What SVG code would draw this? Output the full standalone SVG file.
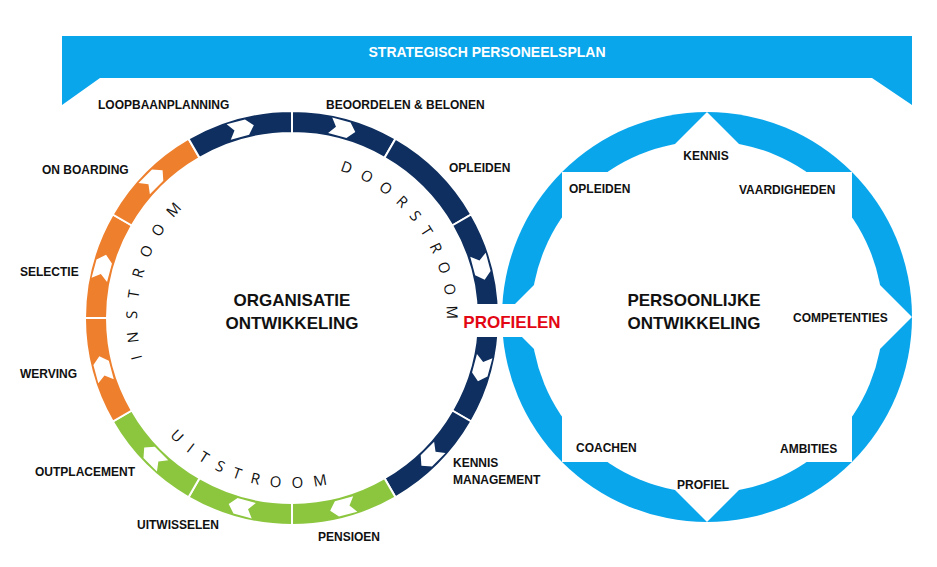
<svg xmlns="http://www.w3.org/2000/svg" xmlns:xlink="http://www.w3.org/1999/xlink" width="937" height="567" viewBox="0 0 937 567">
<style>
.lbl{font-family:"Liberation Sans",Arial,sans-serif;font-weight:bold;font-size:12px;fill:#111}
.big{font-family:"Liberation Sans",Arial,sans-serif;font-weight:bold;font-size:17px;fill:#111;text-anchor:middle}
.arc{font-family:"Open Sans","Liberation Sans",sans-serif;font-size:15px;fill:#111}
.navy{fill:#0E2F5F;stroke:#fff;stroke-width:2}
.orange{fill:#EE7F2D;stroke:#fff;stroke-width:2}
.green{fill:#8CC63F;stroke:#fff;stroke-width:2}
.arw{fill:#fff}
</style>
<defs>
<path id="seg" d="M292,111 A207,207 0 0 1 395.5,138.7 L384.5,157.8 A185,185 0 0 0 292,133 Z"/>
<path id="ar" d="M279,114 L298,114 L305,122 L298,130 L279,130 L285,122 Z"/>
<path id="pDoor" d="M339.9,170.6 A155,155 0 0 1 437.6,371"/>
<path id="pIn" d="M142.3,358.1 A155,155 0 0 1 188.3,202.8"/>
<path id="pUit" d="M169.7,436.1 A170,170 0 0 0 336,482.2"/>
</defs>
<rect width="937" height="567" fill="#fff"/>
<g id="banner">
<polygon points="62,36 912,36 912,105 872,78 100,78 62,105" fill="#0AA6EC"/>
<text x="487" y="57" font-family="Liberation Sans, Arial, sans-serif" font-weight="bold" font-size="14" fill="#fff" text-anchor="middle">STRATEGISCH PERSONEELSPLAN</text>
</g>
<g id="persoonlijk">
<circle cx="707" cy="317" r="205" fill="#0AA6EC"/>
<circle cx="707" cy="317" r="176" fill="#fff"/>
<rect x="562" y="172" width="290" height="290" fill="#fff"/>
<polygon points="707,112 912,317 707,522 502,317" fill="#fff"/>
<text class="big" x="694" y="306">PERSOONLIJKE</text>
<text class="big" x="694" y="329">ONTWIKKELING</text>
<text class="lbl" x="706" y="160" text-anchor="middle">KENNIS</text>
<text class="lbl" x="569" y="193">OPLEIDEN</text>
<text class="lbl" x="739" y="194">VAARDIGHEDEN</text>
<text class="lbl" x="793" y="322">COMPETENTIES</text>
<text class="lbl" x="576" y="452">COACHEN</text>
<text class="lbl" x="780" y="453">AMBITIES</text>
<text class="lbl" x="677" y="489">PROFIEL</text>
</g>
<g id="organisatie">
<use href="#seg" class="navy" transform="rotate(0 292 318)"/>
<use href="#seg" class="navy" transform="rotate(30 292 318)"/>
<use href="#seg" class="navy" transform="rotate(60 292 318)"/>
<use href="#seg" class="navy" transform="rotate(90 292 318)"/>
<use href="#seg" class="navy" transform="rotate(120 292 318)"/>
<use href="#seg" class="green" transform="rotate(150 292 318)"/>
<use href="#seg" class="green" transform="rotate(180 292 318)"/>
<use href="#seg" class="green" transform="rotate(210 292 318)"/>
<use href="#seg" class="orange" transform="rotate(240 292 318)"/>
<use href="#seg" class="orange" transform="rotate(270 292 318)"/>
<use href="#seg" class="orange" transform="rotate(300 292 318)"/>
<use href="#seg" class="navy" transform="rotate(330 292 318)"/>
<g class="arw">
<use href="#ar" transform="rotate(345 292 318)"/>
<use href="#ar" transform="rotate(15 292 318)"/>
<use href="#ar" transform="rotate(75 292 318)"/>
<use href="#ar" transform="rotate(105 292 318)"/>
<use href="#ar" transform="rotate(135 292 318)"/>
<use href="#ar" transform="rotate(165 292 318)"/>
<use href="#ar" transform="rotate(195 292 318)"/>
<use href="#ar" transform="rotate(225 292 318)"/>
<use href="#ar" transform="rotate(255 292 318)"/>
<use href="#ar" transform="rotate(285 292 318)"/>
<use href="#ar" transform="rotate(315 292 318)"/>
</g>
<text class="arc"><textPath href="#pDoor" textLength="196" lengthAdjust="spacing">DOORSTROOM</textPath></text>
<text class="arc"><textPath href="#pIn" textLength="162" lengthAdjust="spacing">INSTROOM</textPath></text>
<text class="arc"><textPath href="#pUit" textLength="172" lengthAdjust="spacing">UITSTROOM</textPath></text>
<text class="big" x="292" y="306">ORGANISATIE</text>
<text class="big" x="292" y="329">ONTWIKKELING</text>
<text class="lbl" x="98" y="109">LOOPBAANPLANNING</text>
<text class="lbl" x="326" y="109">BEOORDELEN &amp; BELONEN</text>
<text class="lbl" x="449" y="172">OPLEIDEN</text>
<text class="lbl" x="42" y="174">ON BOARDING</text>
<text class="lbl" x="20" y="276">SELECTIE</text>
<text class="lbl" x="20" y="378">WERVING</text>
<text class="lbl" x="35" y="476">OUTPLACEMENT</text>
<text class="lbl" x="137" y="529">UITWISSELEN</text>
<text class="lbl" x="318" y="541">PENSIOEN</text>
<text class="lbl" x="453" y="467">KENNIS</text>
<text class="lbl" x="453" y="484">MANAGEMENT</text>
</g>
<g id="profielen">
<rect x="459" y="304" width="109" height="33" fill="#fff"/>
<text x="512" y="328" font-family="Liberation Sans, Arial, sans-serif" font-weight="bold" font-size="17" fill="#E30613" text-anchor="middle">PROFIELEN</text>
</g>
</svg>
